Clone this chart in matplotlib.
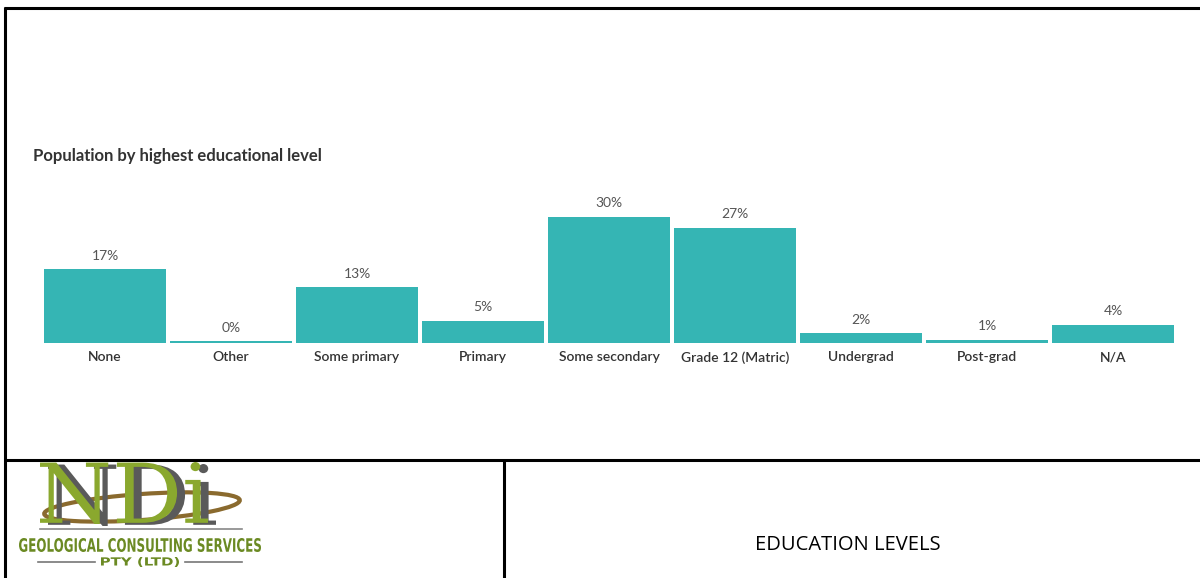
import matplotlib.pyplot as plt
from matplotlib.textpath import TextPath
from matplotlib.patches import PathPatch, Ellipse
from matplotlib.font_manager import FontProperties
from matplotlib.transforms import Affine2D

# Data
categories = ['None', 'Other', 'Some primary', 'Primary', 'Some secondary',
              'Grade 12 (Matric)', 'Undergrad', 'Post-grad', 'N/A']
shares = [17.4, 0.4, 13.2, 5.2, 29.9, 27.3, 2.3, 0.8, 4.3]
share_labels = ['17%', '0%', '13%', '5%', '30%', '27%', '2%', '1%', '4%']

W, H = 1200, 578
fig = plt.figure(figsize=(W / 100, H / 100), dpi=100)

# Bar chart, placed in pixel terms
left, right, base, top = 42, 1176, 343, 195
ax = fig.add_axes([left / W, (H - base) / H, (right - left) / W, (base - top) / H])
x = range(len(categories))
ax.bar(x, shares, width=0.968, color='#35b5b4')
ax.set_xlim(-0.5, len(categories) - 0.5)
ax.set_ylim(0, 35)
for i, (v, lab) in enumerate(zip(shares, share_labels)):
    ax.annotate(lab, (i, v), xytext=(0, 5.5), textcoords='offset points',
                ha='center', va='bottom', fontsize=10, color='#555555',
                family='Lato')
ax.set_xticks(list(x))
ax.set_xticklabels(categories, fontsize=10, color='#333333', family='Lato',
                   fontweight='semibold')
ax.tick_params(axis='x', length=0, pad=6)
ax.set_yticks([])
for s in ax.spines.values():
    s.set_visible(False)

# Overlay for frame, title and footer
ov = fig.add_axes([0, 0, 1, 1], zorder=-1)
ov.set_xlim(0, W)
ov.set_ylim(H, 0)
ov.axis('off')
ov.text(33, 156, 'Population by highest educational level', fontsize=12,
        fontweight='bold', color='#333333', family='Lato', va='center')

lw = 2.2
ov.plot([4, W], [7.5, 7.5], color='black', lw=lw, solid_capstyle='butt')
ov.plot([5, 5], [6.5, H], color='black', lw=lw, solid_capstyle='butt')
ov.plot([4, W], [460, 460], color='black', lw=lw, solid_capstyle='butt')
ov.plot([504, 504], [460, H], color='black', lw=lw, solid_capstyle='butt')

ov.text(848, 545, 'EDUCATION LEVELS', fontsize=14.5, color='black',
        family='Open Sans', ha='center', va='center')


# Logo approximation
def squeezed_text(s, x0, y0, width, height, color, weight='bold', z=3, family='DejaVu Sans'):
    tp = TextPath((0, 0), s, size=100, prop=FontProperties(family=family, weight=weight))
    bb = tp.get_extents()
    tr = (Affine2D().translate(-bb.x0, -bb.y0)
          .scale(width / bb.width, -height / bb.height)
          .translate(x0, y0))
    ov.add_patch(PathPatch(tr.transform_path(tp), color=color, lw=0, zorder=z))


ov.add_patch(Ellipse((142, 507), 196, 26, angle=-4, fill=False,
                     edgecolor='#8a6a2e', lw=3, zorder=2))
squeezed_text('NDi', 48, 526, 168, 62, '#5a5a5a', weight='normal', z=3, family='DejaVu Serif')
squeezed_text('NDi', 40, 524, 168, 62, '#8aa82e', weight='normal', z=4, family='DejaVu Serif')
ov.plot([40, 242], [529, 529], color='#888888', lw=1.2)
squeezed_text('GEOLOGICAL CONSULTING SERVICES', 19, 552, 242, 14, '#6b8a23')
ov.plot([38, 95], [562, 562], color='#777777', lw=1.2)
ov.plot([185, 242], [562, 562], color='#777777', lw=1.2)
squeezed_text('PTY (LTD)', 101, 567, 78, 10, '#6b8a23')

fig.savefig('out.png', dpi=100)
